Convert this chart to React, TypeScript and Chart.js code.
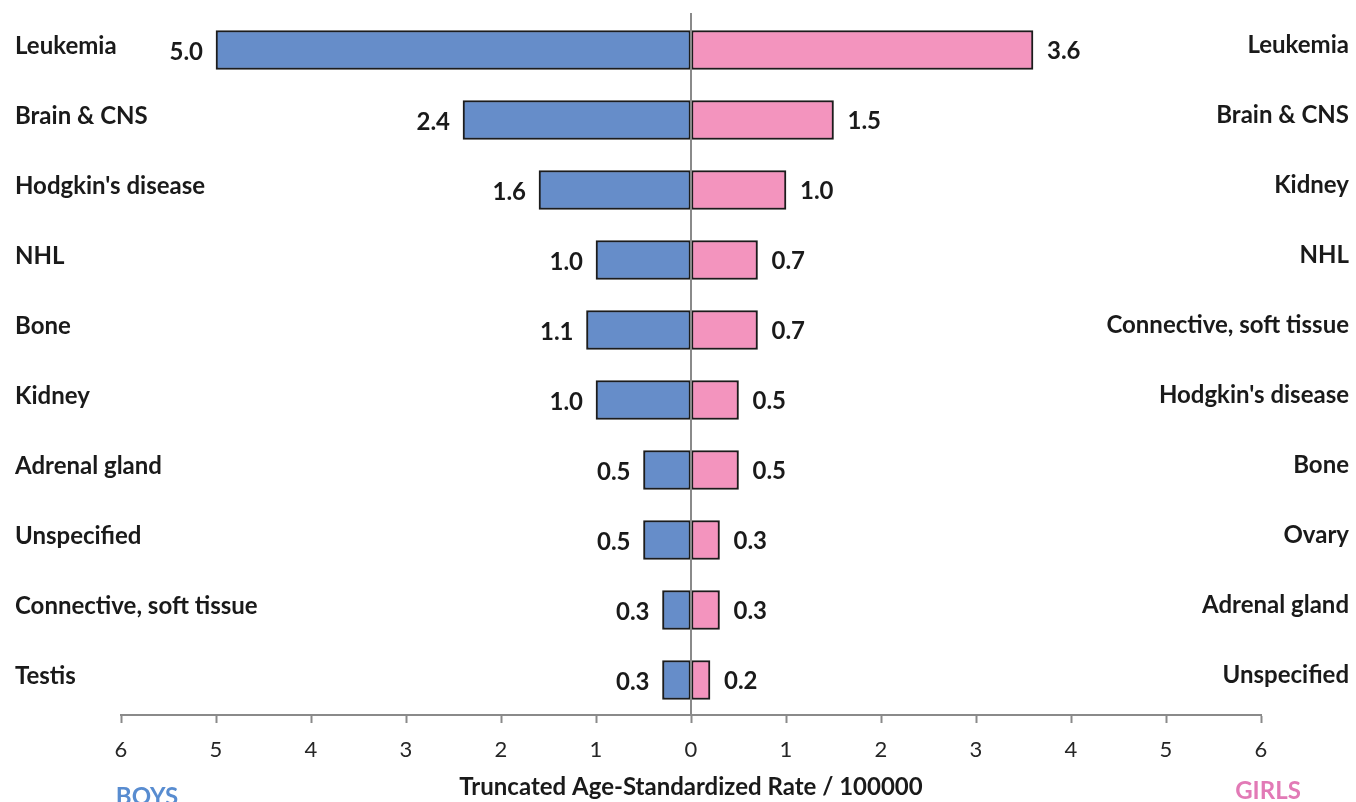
import React, { useEffect, useRef } from "react";
import { Chart, registerables } from "chart.js";

Chart.register(...registerables);

const boysCategories = [
  "Leukemia",
  "Brain & CNS",
  "Hodgkin's disease",
  "NHL",
  "Bone",
  "Kidney",
  "Adrenal gland",
  "Unspecified",
  "Connective, soft tissue",
  "Testis",
];
const boysValues = [5.0, 2.4, 1.6, 1.0, 1.1, 1.0, 0.5, 0.5, 0.3, 0.3];

const girlsCategories = [
  "Leukemia",
  "Brain & CNS",
  "Kidney",
  "NHL",
  "Connective, soft tissue",
  "Hodgkin's disease",
  "Bone",
  "Ovary",
  "Adrenal gland",
  "Unspecified",
];
const girlsValues = [3.6, 1.5, 1.0, 0.7, 0.7, 0.5, 0.5, 0.3, 0.3, 0.2];

const axisTitle = "Truncated Age-Standardized Rate / 100000";
const boysLabel = "BOYS";
const girlsLabel = "GIRLS";

const FONT = "Lato";
const BLUE = "rgb(102,141,201)";
const PINK = "rgb(243,148,190)";
const AXIS_GRAY = "#8a8a8a";

const overlayPlugin = {
  id: "overlay",
  afterDatasetsDraw(chart: any) {
    const { ctx, scales, chartArea } = chart;
    const x = scales.x;
    const y = scales.y;
    ctx.save();
    // zero line on top of bars
    const x0 = x.getPixelForValue(0);
    ctx.strokeStyle = AXIS_GRAY;
    ctx.lineWidth = 2;
    ctx.beginPath();
    ctx.moveTo(x0, chartArea.top - 2);
    ctx.lineTo(x0, chartArea.bottom);
    ctx.stroke();

    ctx.fillStyle = "#1a1a1a";
    ctx.textBaseline = "middle";
    ctx.font = `bold 24px ${FONT}`;
    boysValues.forEach((v, i) => {
      const yy = y.getPixelForValue(i);
      ctx.textAlign = "right";
      ctx.fillText(v.toFixed(1), x.getPixelForValue(-v) - 13, yy + 2);
    });
    girlsValues.forEach((v, i) => {
      const yy = y.getPixelForValue(i);
      ctx.textAlign = "left";
      ctx.fillText(v.toFixed(1), x.getPixelForValue(v) + 14, yy + 1);
    });

    ctx.font = `bold 24px ${FONT}`;
    boysCategories.forEach((c, i) => {
      const yy = y.getPixelForValue(i) - 4;
      ctx.textAlign = "left";
      ctx.fillText(c, 15, yy);
    });
    girlsCategories.forEach((c, i) => {
      const yy = y.getPixelForValue(i) - 5;
      ctx.textAlign = "right";
      ctx.fillText(c, chart.width - 7, yy);
    });

    ctx.font = `bold 24px ${FONT}`;
    ctx.textAlign = "center";
    ctx.fillStyle = "rgb(88,140,208)";
    ctx.fillText(boysLabel, x.getPixelForValue(-6) + 26, chart.height - 5);
    ctx.fillStyle = "rgb(226,122,182)";
    ctx.fillText(girlsLabel, x.getPixelForValue(6) + 7, chart.height - 11);
    ctx.restore();
  },
};

export default function App() {
  const ref = useRef<HTMLCanvasElement | null>(null);
  useEffect(() => {
    document.body.style.margin = "0";
    const canvas = ref.current!;
    const chart = new Chart(canvas, {
      type: "bar",
      data: {
        labels: boysCategories,
        datasets: [
          {
            label: boysLabel,
            data: boysValues.map((v) => -v),
            backgroundColor: BLUE,
            borderColor: "#1c1c1c",
            borderWidth: 2,
            borderSkipped: false,
            barThickness: 39,
          },
          {
            label: girlsLabel,
            data: girlsValues,
            backgroundColor: PINK,
            borderColor: "#1c1c1c",
            borderWidth: 2,
            borderSkipped: false,
            barThickness: 39,
          },
        ],
      },
      options: {
        indexAxis: "y",
        animation: false,
        responsive: false,
        layout: { padding: { left: 121, right: 95, top: 15, bottom: 0 } },
        plugins: {
          legend: { display: false },
          tooltip: { enabled: false },
        },
        scales: {
          y: {
            type: "category",
            stacked: true,
            display: false,
          },
          x: {
            type: "linear",
            stacked: true,
            min: -6,
            max: 6,
            afterFit: (s: any) => {
              s.height = 87;
            },
            border: { display: true, color: AXIS_GRAY, width: 2 },
            grid: {
              drawOnChartArea: false,
              drawTicks: true,
              tickLength: 8,
              tickColor: AXIS_GRAY,
              tickWidth: 2,
            },
            ticks: {
              stepSize: 1,
              padding: 14,
              color: "#262626",
              font: { family: FONT, size: 22 },
              callback: (v: any) => String(Math.abs(Number(v))),
              maxRotation: 0,
            },
            title: {
              display: true,
              text: axisTitle,
              color: "#1a1a1a",
              font: { family: FONT, size: 24, weight: "bold" },
              padding: { top: 0, bottom: 0 },
            },
          },
        },
      },
      plugins: [overlayPlugin],
    });
    return () => chart.destroy();
  }, []);
  return <canvas ref={ref} width={1356} height={802} style={{ display: "block" }} />;
}
